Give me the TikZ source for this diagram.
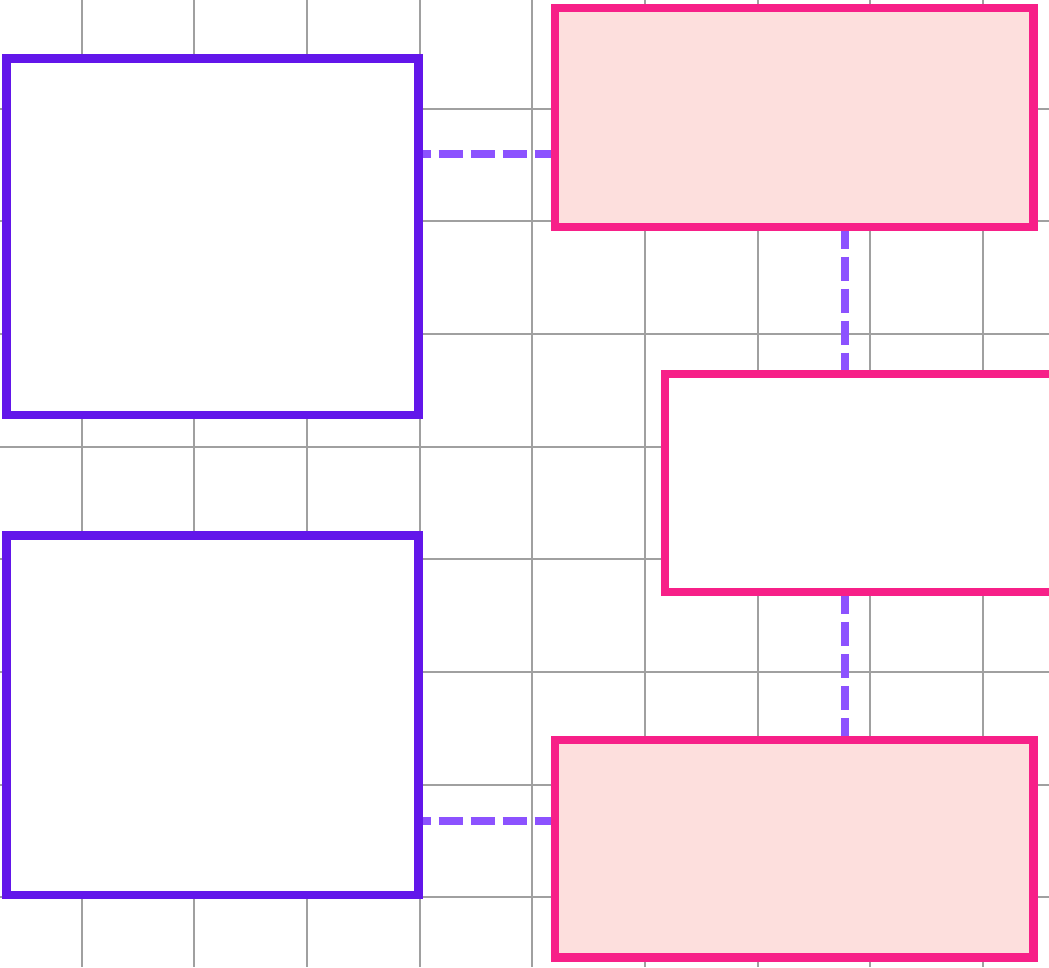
\documentclass[tikz,border=0pt]{standalone}
\usetikzlibrary{positioning}

\definecolor{rasterGrau}{HTML}{A0A0A0}
\definecolor{lila}{HTML}{6216EA}
\definecolor{lilaHell}{HTML}{8C52FF}
\definecolor{pink}{HTML}{F72088}
\definecolor{rosa}{HTML}{FDDFDD}

\tikzset{
  raster/.style={draw=rasterGrau, line width=1.5pt},
  kastenLila/.style={draw=lila, fill=white, line width=6.2pt, inner sep=0pt},
  kastenPink/.style={draw=pink, fill=rosa, line width=6.2pt, inner sep=0pt},
  kastenPinkLeer/.style={draw=pink, fill=white, line width=6.2pt, inner sep=0pt},
  verbindung/.style={draw=lilaHell, line width=6pt, dash pattern=on 18pt off 6pt}
}

\begin{document}
\begin{tikzpicture}[x=0.75pt, y=-0.75pt]
    \useasboundingbox (0,0) rectangle (1049,967);
    \clip (0,0) rectangle (1049,967);

    % Raster
    \foreach \i in {1,...,9}
      \draw[raster] ({-31.2+112.7*\i},0) -- ({-31.2+112.7*\i},967);
    \foreach \j in {1,...,8}
      \draw[raster] (0,{-4.2+112.7*\j}) -- (1049,{-4.2+112.7*\j});

    % Linke Kaesten
    \node[kastenLila, minimum width=309pt, minimum height=267.4pt] (links1) at (212.5,236.75) {};
    \node[kastenLila, minimum width=309pt, minimum height=269.6pt] (links2) at (212.5,715.25) {};

    % Rechte Kaesten
    \node[kastenPink, minimum width=358.9pt, minimum height=164pt] (rechts1) at (794.25,117.35) {};
    \node[kastenPinkLeer, minimum width=296.25pt, minimum height=163.5pt] (rechts2) at (862.5,483) {};
    \node[kastenPink, minimum width=358.9pt, minimum height=163.1pt] (rechts3) at (794.25,848.75) {};

    % Verbindungen
    \coordinate (hoehe1) at (0,153.7);
    \coordinate (hoehe2) at (0,821);
    \coordinate (spalte) at (845,0);
    \draw[verbindung, dash phase=12pt] (links1.east |- hoehe1) -- (rechts1.west |- hoehe1);
    \draw[verbindung, dash phase=12pt] (links2.east |- hoehe2) -- (rechts3.west |- hoehe2);
    \draw[verbindung, dash phase=4.7pt] (rechts1.south -| spalte) -- (rechts2.north -| spalte);
    \draw[verbindung, dash phase=4.7pt] (rechts2.south -| spalte) -- (rechts3.north -| spalte);

\end{tikzpicture}
\end{document}
